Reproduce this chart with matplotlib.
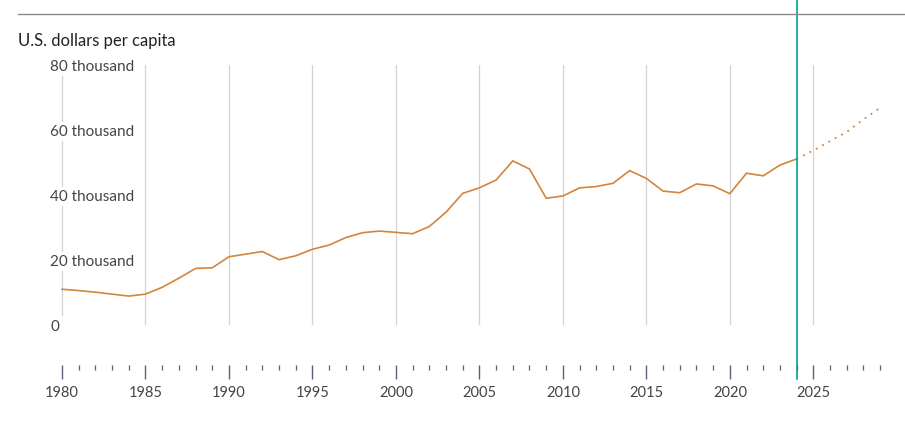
import matplotlib
matplotlib.use('Agg')
import matplotlib.pyplot as plt
from matplotlib.transforms import blended_transform_factory
from matplotlib.ticker import FixedLocator
from matplotlib.lines import Line2D

plt.rcParams['font.family'] = ['Lato', 'DejaVu Sans']

# GDP per capita, thousand U.S. dollars
years = list(range(1980, 2025))
values = [11.0, 10.6, 10.1, 9.5, 8.9, 9.5, 11.6, 14.4, 17.4, 17.6,
          21.0, 21.8, 22.6, 20.1, 21.3, 23.3, 24.6, 26.9, 28.4, 28.9,
          28.5, 28.1, 30.3, 34.7, 40.5, 42.2, 44.6, 50.5, 48.0, 39.0,
          39.7, 42.2, 42.6, 43.6, 47.5, 45.1, 41.2, 40.7, 43.4, 42.8,
          40.4, 46.7, 45.9, 49.2, 51.1]

# projections (dotted)
proj_years = [2024, 2025, 2026, 2027, 2028, 2029]
proj_values = [51.1, 53.7, 56.6, 59.4, 63.3, 66.8]

y_ticks = [0, 20, 40, 60, 80]
y_labels = ['0', '20 thousand', '40 thousand', '60 thousand', '80 thousand']
x_major = list(range(1980, 2030, 5))
x_minor = list(range(1980, 2030))
current_year = 2024

line_color = '#d4843c'
teal = '#00a19a'
text_color = '#444444'

W, H = 905, 423
fig = plt.figure(figsize=(W / 100, H / 100), dpi=100)

px_year = 16.7
left_px = 62 - px_year
right_px = 880.1 + px_year
ax = fig.add_axes([left_px / W, (H - 325) / H, (right_px - left_px) / W, 260 / H])
ax.set_xlim(1979, 2030)
ax.set_ylim(0, 80)

for s in ['top', 'right', 'left']:
    ax.spines[s].set_visible(False)
ax.spines['bottom'].set_position(('outward', 40 * 72 / 100))
ax.spines['bottom'].set_visible(False)

# vertical gridlines
for yr in x_major:
    if yr == 1980:
        continue
    ax.axvline(yr, color='#d3d3d3', lw=0.9, zorder=1)
ax.axvline(1980, ymin=10 / 260, ymax=1 - 10 / 260, color='#d3d3d3', lw=0.9, zorder=1)

ax.plot(years, values, color=line_color, lw=1.2, zorder=3, solid_joinstyle='miter')
ax.plot(proj_years, proj_values, color=line_color, lw=1.3,
        linestyle=(0, (1, 3)), zorder=3)

# y labels, left aligned with white background
trans = blended_transform_factory(fig.transFigure, ax.transData)
for v, lab in zip(y_ticks, y_labels):
    ax.text(50 / W, v - 0.5, lab, transform=trans, ha='left', va='center',
            fontsize=11, color=text_color, zorder=4,
            bbox=dict(boxstyle='square,pad=0.15', fc='white', ec='none'))
ax.set_yticks([])

# x ticks hanging below the plot
ax.xaxis.set_major_locator(FixedLocator(x_major))
ax.set_xticklabels([str(x) for x in x_major])
ax.xaxis.set_minor_locator(FixedLocator(x_minor))
ax.tick_params(axis='x', which='major', direction='out', length=14 * 0.72,
               width=1.0, color='#5c5c80', labelsize=10.5, labelcolor=text_color,
               pad=5)
ax.tick_params(axis='x', which='minor', direction='out', length=5 * 0.72,
               width=0.9, color='#5c5c80')

# current year marker
ax.axvline(current_year, ymin=-54 / 260, ymax=325 / 260, color=teal, lw=1.2,
           clip_on=False, zorder=5)

# title and top rule
fig.add_artist(Line2D([18 / W, 1], [1 - 14 / H, 1 - 14 / H], color='#8a8a8a',
                      lw=1.0, transform=fig.transFigure))
fig.text(18 / W, 1 - 41 / H, 'U.S. dollars per capita', ha='left', va='center',
         fontsize=12, color='#222222')

fig.savefig('out.png', dpi=100)
